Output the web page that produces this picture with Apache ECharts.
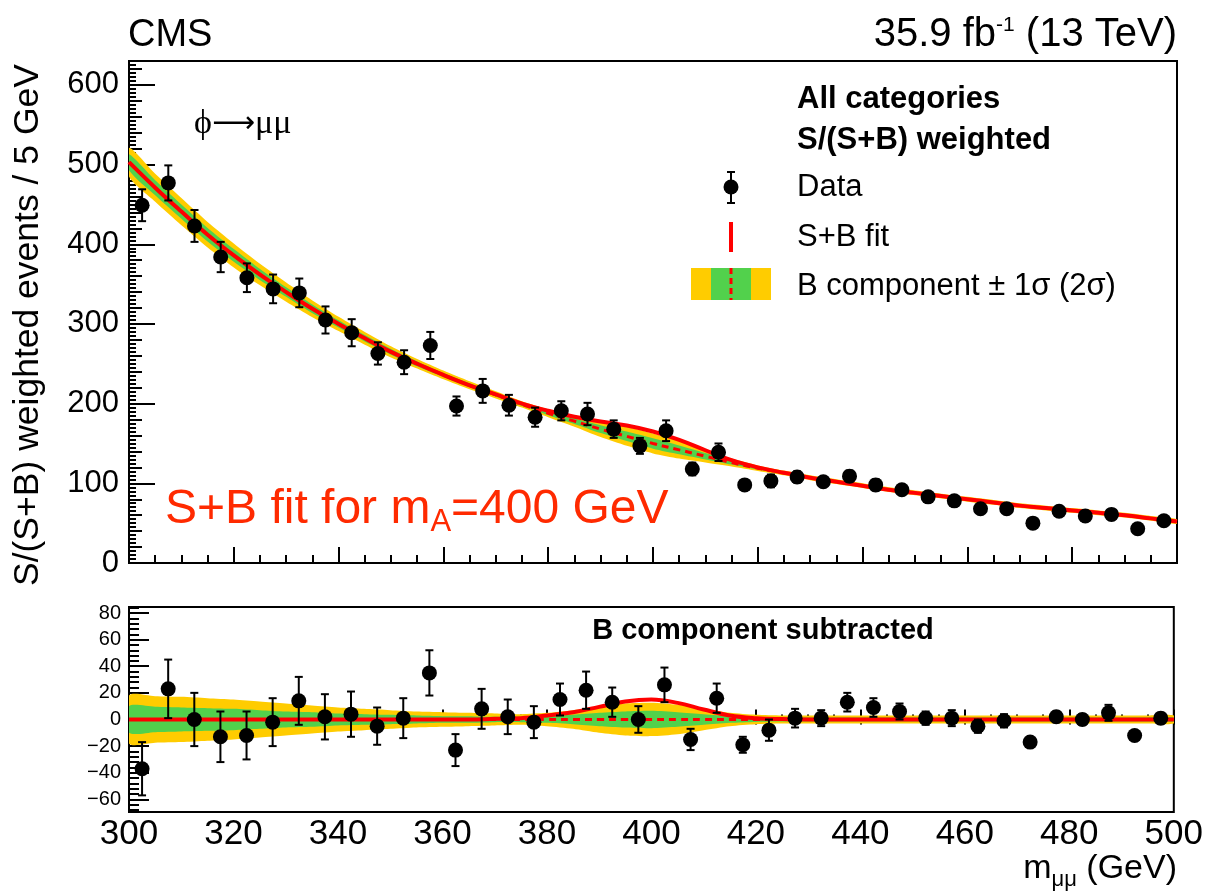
<!DOCTYPE html>
<html>
<head>
<meta charset="utf-8">
<script src="https://cdn.jsdelivr.net/npm/echarts@6/dist/echarts.min.js"></script>
<style>
html, body { margin: 0; padding: 0; background: #fff; }
#main { width: 1206px; height: 892px; }
</style>
</head>
<body>
<div id="main"></div>
<script>
// bin centres (5 GeV bins)
var binCenters = [302.5, 307.5, 312.5, 317.5, 322.5, 327.5, 332.5, 337.5, 342.5, 347.5,
                  352.5, 357.5, 362.5, 367.5, 372.5, 377.5, 382.5, 387.5, 392.5, 397.5,
                  402.5, 407.5, 412.5, 417.5, 422.5, 427.5, 432.5, 437.5, 442.5, 447.5,
                  452.5, 457.5, 462.5, 467.5, 472.5, 477.5, 482.5, 487.5, 492.5, 497.5];
// weighted events per bin
var dataTop = [449, 477, 423, 384, 358, 344, 339, 305, 289, 263,
               252, 273, 197, 216, 198, 183, 191, 187, 168, 147,
               166, 118, 139, 98, 103, 108, 102, 109, 98, 92,
               83, 78, 68, 68, 50, 65, 59, 61, 43, 53];
// B component subtracted
var dataSub = [-37, 23, 0, -13, -12, -2, 14, 2, 4, -5,
               1, 35, -23, 8, 2, -2, 15, 22, 13, 0,
               26, -15, 16, -19, -8, 1, 1, 13, 9, 6,
               1, 1, -5, -1, -17, 2, 0, 5, -12, 1];
var dataErr = [20, 22, 20, 19, 18, 18, 18, 17, 17, 14,
               15, 17, 12, 15, 13, 12, 12, 14, 11, 10,
               13, 8, 11, 6, 8, 7, 6, 7, 7, 6,
               5, 6, 5, 5, 3, 4, 4, 6, 3, 4];

// fit curves sampled every 5 GeV
var fitX = [300, 305, 310, 315, 320, 325, 330, 335, 340, 345,
            350, 355, 360, 365, 370, 375, 380, 385, 390, 395,
            400, 405, 410, 415, 420, 425, 430, 435, 440, 445,
            450, 455, 460, 465, 470, 475, 480, 485, 490, 495, 500];
var bkgFit = [503, 471, 441, 412, 386, 362, 340, 319, 300, 282,
              265, 250, 236, 223, 211, 199, 188, 178, 168, 159,
              150, 142, 134, 126, 119, 113, 107, 102, 97, 92,
              88, 84, 80, 76, 72, 69, 66, 63, 60, 56, 52];
var sigFit = [0, 0, 0, 0, 0, 0, 0, 0, 0, 0,
              0, 0, 0, 0, 0.5, 1, 3, 5.5, 9.5, 13.5,
              15, 12.5, 7.5, 3, 1, 0.3, 0, 0, 0, 0,
              0, 0, 0, 0, 0, 0, 0, 0, 0, 0, 0];
var band1 = [10, 9.5, 9, 8.5, 8, 7, 6, 5.5, 4.5, 4,
             3.5, 3, 2.5, 2.5, 2, 2, 2.5, 3.5, 5, 6,
             6.5, 5.5, 4, 2.5, 1.8, 1.5, 1.5, 1.5, 1.5, 1.5,
             1.5, 1.5, 1.5, 1.5, 1.5, 1.5, 1.5, 1.5, 1.5, 1.5, 1.5];
var band2 = [18, 17.5, 17, 16, 15, 13.5, 12, 10.5, 9, 8,
             7, 6, 5.5, 5, 4.5, 4, 5, 7, 10, 12,
             12.5, 11, 8, 5, 3.5, 3, 3, 3, 3, 3,
             3, 3, 3, 3, 3, 3, 3, 3, 3, 3, 3];

var subTicks = [-60, -40, -20, 0, 20, 40, 60, 80];

var FONT = '"Liberation Sans", Arial, Helvetica, sans-serif';
var YELLOW = '#ffcc00', GREEN = '#52d14c', RED = '#ff0000';

function pairs(xs, ys) { return xs.map(function (x, i) { return [x, ys[i]]; }); }

// ±1σ / ±2σ band drawn as polygons through the axis scales
function bandSeries(center, xAxis, yAxis) {
  return {
    type: 'custom', xAxisIndex: xAxis, yAxisIndex: yAxis,
    data: [[fitX[0], center[0]]], encode: { x: 0, y: 1 },
    clip: true, silent: true, z: 2,
    renderItem: function (params, api) {
      function poly(wArr) {
        var up = [], lo = [];
        fitX.forEach(function (x, i) {
          up.push(api.coord([x, center[i] + wArr[i]]));
          lo.push(api.coord([x, center[i] - wArr[i]]));
        });
        return up.concat(lo.reverse());
      }
      return {
        type: 'group',
        children: [
          { type: 'polygon', shape: { points: poly(band2), smooth: 0.25 }, style: { fill: YELLOW } },
          { type: 'polygon', shape: { points: poly(band1), smooth: 0.25 }, style: { fill: GREEN } }
        ]
      };
    }
  };
}

function renderErr(params, api) {
  var x = api.value(0), y = api.value(1), e = api.value(2);
  var hi = api.coord([x, y + e]), lo = api.coord([x, y - e]);
  var st = { stroke: '#000', lineWidth: 2 };
  return {
    type: 'group',
    children: [
      { type: 'line', shape: { x1: hi[0], y1: hi[1], x2: lo[0], y2: lo[1] }, style: st },
      { type: 'line', shape: { x1: hi[0] - 4, y1: hi[1], x2: hi[0] + 4, y2: hi[1] }, style: st },
      { type: 'line', shape: { x1: lo[0] - 4, y1: lo[1], x2: lo[0] + 4, y2: lo[1] }, style: st }
    ]
  };
}

var topPts = binCenters.map(function (x, i) { return [x, dataTop[i], dataErr[i]]; });
var subPts = binCenters.map(function (x, i) { return [x, dataSub[i], dataErr[i]]; });
var zeros = fitX.map(function () { return 0; });
var sbFit = fitX.map(function (x, i) { return bkgFit[i] + sigFit[i]; });

// minor tick lists
var topTiny = [], subMinor = [];
for (var v = 0; v <= 630; v += 5) if (v % 20 !== 0) topTiny.push(v);
for (var w = -68; w <= 84; w += 4) if (w % 20 !== 0) subMinor.push(w);

// text runs with sub/superscripts
var mctx = document.createElement('canvas').getContext('2d');
function runs(x, baseY, parts, align) {
  var ws = parts.map(function (p) {
    mctx.font = (p.bold ? 'bold ' : '') + p.size + 'px ' + (p.family || FONT);
    return mctx.measureText(p.t).width;
  });
  var total = ws.reduce(function (a, b) { return a + b; }, 0);
  var cx = align === 'right' ? x - total : x;
  return parts.map(function (p, i) {
    var el = {
      type: 'text', x: cx, y: baseY + (p.dy || 0) - 0.35 * p.size, z: 20,
      style: {
        text: p.t, font: (p.bold ? 'bold ' : '') + p.size + 'px ' + (p.family || FONT),
        fill: p.color || '#000', textAlign: 'left', textVerticalAlign: 'middle'
      }
    };
    cx += ws[i];
    return el;
  });
}

function txt(x, y, t, size, bold, align) {
  return {
    type: 'text', x: x, y: y, z: 20,
    style: { text: t, font: (bold ? 'bold ' : '') + size + 'px ' + FONT, fill: '#000',
             textAlign: align || 'left', textVerticalAlign: 'middle' }
  };
}

var SERIF = '"Liberation Serif", "DejaVu Serif", serif';
var graphics = [];
graphics = graphics.concat(runs(128, 49, [{ t: 'CMS', size: 38 }]));
graphics = graphics.concat(runs(1177, 49, [
  { t: '35.9 fb', size: 40 }, { t: '-1', size: 21, dy: -16 }, { t: ' (13 TeV)', size: 40 }
], 'right'));
graphics.push({
  type: 'text', x: 28, y: 586, rotation: Math.PI / 2, z: 20,
  style: { text: 'S/(S+B) weighted events / 5 GeV', font: '35.5px ' + FONT, fill: '#000',
           textAlign: 'left', textVerticalAlign: 'middle' }
});
graphics = graphics.concat(runs(194, 136, [
  { t: 'ϕ', size: 34, family: SERIF },
  { t: '⟶', size: 30, family: '"DejaVu Sans", sans-serif', dy: -1 },
  { t: 'μμ', size: 34, family: SERIF }
]));
graphics.push(txt(797, 99, 'All categories', 31, true));
graphics.push(txt(797, 140, 'S/(S+B) weighted', 31, true));
graphics.push(txt(797, 187, 'Data', 31, false));
graphics.push(txt(797, 237, 'S+B fit', 31, false));
graphics.push(txt(797, 286, 'B component ± 1σ (2σ)', 31, false));
// legend symbols
graphics.push({ type: 'line', z: 20, shape: { x1: 731, y1: 172, x2: 731, y2: 203 }, style: { stroke: '#000', lineWidth: 2 } });
graphics.push({ type: 'line', z: 20, shape: { x1: 727, y1: 172, x2: 735, y2: 172 }, style: { stroke: '#000', lineWidth: 2 } });
graphics.push({ type: 'line', z: 20, shape: { x1: 727, y1: 203, x2: 735, y2: 203 }, style: { stroke: '#000', lineWidth: 2 } });
graphics.push({ type: 'circle', z: 20, shape: { cx: 731, cy: 187, r: 7.5 }, style: { fill: '#000' } });
graphics.push({ type: 'line', z: 20, shape: { x1: 731, y1: 222, x2: 731, y2: 252 }, style: { stroke: RED, lineWidth: 4 } });
graphics.push({ type: 'rect', z: 20, shape: { x: 691, y: 268, width: 80, height: 32 }, style: { fill: YELLOW } });
graphics.push({ type: 'rect', z: 21, shape: { x: 711, y: 268, width: 40, height: 32 }, style: { fill: GREEN } });
graphics.push({ type: 'line', z: 22, shape: { x1: 731, y1: 268, x2: 731, y2: 300 }, style: { stroke: RED, lineWidth: 3, lineDash: [6, 4] } });
// annotation
graphics = graphics.concat(runs(165, 527, [
  { t: 'S+B fit for m', size: 48, color: '#ff2a00' },
  { t: 'A', size: 31, dy: 6, color: '#ff2a00' },
  { t: '=400 GeV', size: 48, color: '#ff2a00' }
]));
graphics.push(txt(763, 631, 'B component subtracted', 29, true, 'center'));
graphics = graphics.concat(runs(1177, 881, [
  { t: 'm', size: 34 }, { t: 'μμ', size: 22, dy: 7 }, { t: ' (GeV)', size: 34 }
], 'right'));

var axisLineStyle = { show: true, lineStyle: { color: '#000', width: 2 } };

var myChart = echarts.init(document.getElementById('main'));
var option = {
  backgroundColor: '#fff',
  animation: false,
  grid: [
    { left: 129, right: 29, top: 61, height: 502, show: true, borderColor: '#000', borderWidth: 2 },
    { left: 129, right: 29, top: 607, height: 205, show: true, borderColor: '#000', borderWidth: 2 }
  ],
  xAxis: [
    { gridIndex: 0, type: 'value', min: 300, max: 500, interval: 20,
      axisLine: axisLineStyle, splitLine: { show: false }, axisLabel: { show: false },
      axisTick: { inside: true, length: 16, lineStyle: { color: '#000', width: 2 } },
      minorTick: { show: true, splitNumber: 4, length: 8, lineStyle: { color: '#000', width: 2 } } },
    { gridIndex: 1, type: 'value', min: 300, max: 500, interval: 20,
      axisLine: axisLineStyle, splitLine: { show: false },
      axisLabel: { fontSize: 35, fontFamily: FONT, color: '#000', margin: 5 },
      axisTick: { inside: true, length: 10, lineStyle: { color: '#000', width: 2 } },
      minorTick: { show: true, splitNumber: 4, length: 5, lineStyle: { color: '#000', width: 2 } } },
    { gridIndex: 1, type: 'value', min: 300, max: 500, interval: 20, position: 'top',
      axisLine: { show: false }, splitLine: { show: false }, axisLabel: { show: false },
      axisTick: { inside: true, length: 5, lineStyle: { color: '#000', width: 2 } },
      minorTick: { show: false } }
  ],
  yAxis: [
    { gridIndex: 0, type: 'value', min: 0, max: 630, interval: 100, position: 'left',
      axisLine: axisLineStyle, splitLine: { show: false },
      axisLabel: { fontSize: 31, fontFamily: FONT, color: '#000', margin: 10, showMaxLabel: false },
      axisTick: { inside: true, length: 26, lineStyle: { color: '#000', width: 2 } },
      minorTick: { show: true, splitNumber: 5, length: 13, lineStyle: { color: '#000', width: 2 } } },
    { gridIndex: 0, type: 'value', min: 0, max: 630, position: 'left',
      axisLine: { show: false }, splitLine: { show: false }, axisLabel: { show: false },
      axisTick: { inside: true, length: 7, customValues: topTiny, lineStyle: { color: '#000', width: 2 } } },
    { gridIndex: 1, type: 'value', min: -69.5, max: 84.5, position: 'left',
      axisLine: axisLineStyle, splitLine: { show: false },
      axisLabel: { fontSize: 20, fontFamily: FONT, color: '#000', margin: 8, customValues: subTicks,
                   formatter: function (v) { return String(v).replace('-', '\u2212'); } },
      axisTick: { inside: true, length: 20, customValues: subTicks, lineStyle: { color: '#000', width: 2 } } },
    { gridIndex: 1, type: 'value', min: -69.5, max: 84.5, position: 'left',
      axisLine: { show: false }, splitLine: { show: false }, axisLabel: { show: false },
      axisTick: { inside: true, length: 10, customValues: subMinor, lineStyle: { color: '#000', width: 2 } } }
  ],
  graphic: graphics,
  series: [
    bandSeries(bkgFit, 0, 0),
    bandSeries(zeros, 1, 2),
    { type: 'line', xAxisIndex: 0, yAxisIndex: 0, data: pairs(fitX, bkgFit), smooth: 0.4,
      showSymbol: false, lineStyle: { color: RED, width: 3, type: [7, 5] }, z: 3 },
    { type: 'line', xAxisIndex: 0, yAxisIndex: 0, data: pairs(fitX, sbFit), smooth: 0.4,
      showSymbol: false, lineStyle: { color: RED, width: 4 }, z: 4 },
    { type: 'line', xAxisIndex: 1, yAxisIndex: 2, data: pairs(fitX, zeros), smooth: 0.4,
      showSymbol: false, lineStyle: { color: RED, width: 3, type: [7, 5] }, z: 3 },
    { type: 'line', xAxisIndex: 1, yAxisIndex: 2, data: pairs(fitX, sigFit), smooth: 0.4,
      showSymbol: false, lineStyle: { color: RED, width: 4 }, z: 4 },
    { type: 'custom', xAxisIndex: 0, yAxisIndex: 0, data: topPts, renderItem: renderErr,
      encode: { x: 0, y: 1 }, z: 5, silent: true },
    { type: 'custom', xAxisIndex: 1, yAxisIndex: 2, data: subPts, renderItem: renderErr,
      encode: { x: 0, y: 1 }, z: 5, silent: true },
    { type: 'scatter', xAxisIndex: 0, yAxisIndex: 0, data: topPts.map(function (p) { return [p[0], p[1]]; }),
      symbolSize: 15, itemStyle: { color: '#000', opacity: 1 }, z: 6, silent: true },
    { type: 'scatter', xAxisIndex: 1, yAxisIndex: 2, data: subPts.map(function (p) { return [p[0], p[1]]; }),
      symbolSize: 15, itemStyle: { color: '#000', opacity: 1 }, z: 6, silent: true }
  ]
};
myChart.setOption(option);
</script>
</body>
</html>
